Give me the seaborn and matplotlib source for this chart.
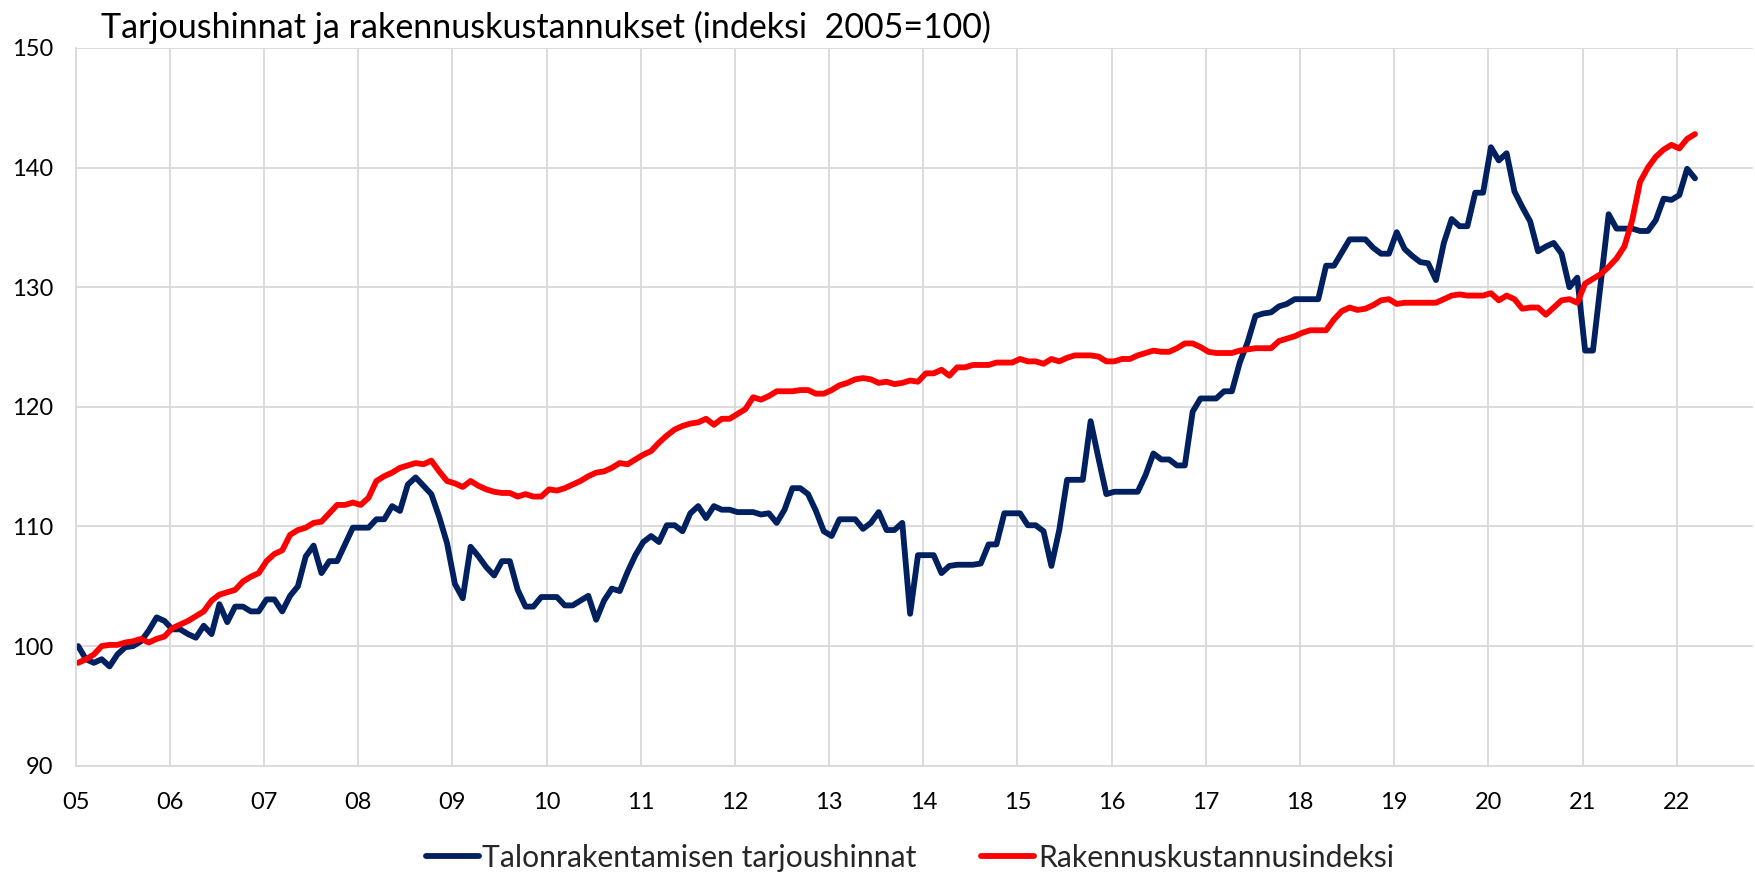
import numpy as np
import pandas as pd
import matplotlib
matplotlib.use("Agg")
import matplotlib.pyplot as plt
import seaborn as sns
from matplotlib.lines import Line2D

# Monthly data Jan 2005 .. Mar 2022 (index 2005=100)
tarjoushinnat = [
    100.0, 98.9, 98.6, 98.9, 98.3, 99.3, 99.9, 100.0, 100.4, 101.3, 102.4, 102.1,
    101.4, 101.4, 101.0, 100.7, 101.7, 101.0, 103.5, 102.0, 103.3, 103.3, 102.9, 102.9,
    103.9, 103.9, 102.9, 104.2, 105.0, 107.5, 108.4, 106.1, 107.1, 107.1, 108.5, 109.9,
    109.9, 109.9, 110.6, 110.6, 111.7, 111.3, 113.5, 114.1, 113.4, 112.7, 110.8, 108.6,
    105.2, 104.0, 108.3, 107.5, 106.6, 105.9, 107.1, 107.1, 104.7, 103.3, 103.3, 104.1,
    104.1, 104.1, 103.4, 103.4, 103.8, 104.2, 102.2, 103.8, 104.8, 104.6, 106.2, 107.6,
    108.7, 109.2, 108.7, 110.1, 110.1, 109.6, 111.1, 111.7, 110.7, 111.7, 111.4, 111.4,
    111.2, 111.2, 111.2, 111.0, 111.1, 110.3, 111.4, 113.2, 113.2, 112.7, 111.3, 109.6,
    109.2, 110.6, 110.6, 110.6, 109.8, 110.3, 111.2, 109.7, 109.7, 110.3, 102.7, 107.6,
    107.6, 107.6, 106.1, 106.7, 106.8, 106.8, 106.8, 106.9, 108.5, 108.5, 111.1, 111.1,
    111.1, 110.1, 110.1, 109.6, 106.7, 109.7, 113.9, 113.9, 113.9, 118.8, 115.7, 112.7,
    112.9, 112.9, 112.9, 112.9, 114.3, 116.1, 115.6, 115.6, 115.1, 115.1, 119.6, 120.7,
    120.7, 120.7, 121.3, 121.3, 123.7, 125.4, 127.6, 127.8, 127.9, 128.4, 128.6, 129.0,
    129.0, 129.0, 129.0, 131.8, 131.8, 132.9, 134.0, 134.0, 134.0, 133.3, 132.8, 132.8,
    134.6, 133.2, 132.6, 132.1, 132.0, 130.6, 133.7, 135.7, 135.1, 135.1, 137.9, 137.9,
    141.7, 140.6, 141.2, 138.0, 136.7, 135.5, 133.0, 133.4, 133.7, 132.8, 130.0, 130.8,
    124.7, 124.7, 130.4, 136.1, 134.9, 134.9, 134.9, 134.7, 134.7, 135.6, 137.4, 137.3,
    137.7, 139.9, 139.1,
]

rakennuskustannus = [
    98.6, 98.9, 99.3, 100.0, 100.1, 100.1, 100.3, 100.4, 100.6, 100.3, 100.6, 100.8,
    101.5, 101.8, 102.1, 102.5, 102.9, 103.8, 104.3, 104.5, 104.7, 105.4, 105.8, 106.1,
    107.1, 107.7, 108.0, 109.3, 109.7, 109.9, 110.3, 110.4, 111.1, 111.8, 111.8, 112.0,
    111.8, 112.4, 113.8, 114.2, 114.5, 114.9, 115.1, 115.3, 115.2, 115.5, 114.6, 113.8,
    113.6, 113.3, 113.8, 113.4, 113.1, 112.9, 112.8, 112.8, 112.5, 112.7, 112.5, 112.5,
    113.1, 113.0, 113.2, 113.5, 113.8, 114.2, 114.5, 114.6, 114.9, 115.3, 115.2, 115.6,
    116.0, 116.3, 117.0, 117.6, 118.1, 118.4, 118.6, 118.7, 119.0, 118.5, 119.0, 119.0,
    119.4, 119.8, 120.8, 120.6, 120.9, 121.3, 121.3, 121.3, 121.4, 121.4, 121.1, 121.1,
    121.4, 121.8, 122.0, 122.3, 122.4, 122.3, 122.0, 122.1, 121.9, 122.0, 122.2, 122.1,
    122.8, 122.8, 123.1, 122.6, 123.3, 123.3, 123.5, 123.5, 123.5, 123.7, 123.7, 123.7,
    124.0, 123.8, 123.8, 123.6, 124.0, 123.8, 124.1, 124.3, 124.3, 124.3, 124.2, 123.8,
    123.8, 124.0, 124.0, 124.3, 124.5, 124.7, 124.6, 124.6, 124.9, 125.3, 125.3, 125.0,
    124.6, 124.5, 124.5, 124.5, 124.7, 124.8, 124.9, 124.9, 124.9, 125.5, 125.7, 125.9,
    126.2, 126.4, 126.4, 126.4, 127.3, 128.0, 128.3, 128.1, 128.2, 128.5, 128.9, 129.0,
    128.6, 128.7, 128.7, 128.7, 128.7, 128.7, 129.0, 129.3, 129.4, 129.3, 129.3, 129.3,
    129.5, 128.9, 129.3, 129.0, 128.2, 128.3, 128.3, 127.7, 128.3, 128.9, 129.0, 128.7,
    130.3, 130.7, 131.1, 131.7, 132.4, 133.4, 135.6, 138.8, 140.0, 140.9, 141.5, 141.9,
    141.6, 142.4, 142.8,
]

years = list(range(2005, 2023))
year_labels = [f"{y % 100:02d}" for y in years]
series_names = ["Talonrakentamisen tarjoushinnat", "Rakennuskustannusindeksi"]
series_colors = ["#002060", "#FF0000"]

n = len(tarjoushinnat)
t = 2005 + (np.arange(n) + 0.32) / 12.0

df = pd.concat([
    pd.DataFrame({"aika": t, "indeksi": tarjoushinnat, "sarja": series_names[0]}),
    pd.DataFrame({"aika": t, "indeksi": rakennuskustannus, "sarja": series_names[1]}),
])

sns.set_theme(style="white")
plt.rcParams["font.family"] = ["Lato", "DejaVu Sans"]

fig = plt.figure(figsize=(17.55, 8.72), dpi=100)
ax = fig.add_axes([0.0431, 0.1219, 0.9558, 0.8231])

sns.lineplot(data=df, x="aika", y="indeksi", hue="sarja",
             palette=dict(zip(series_names, series_colors)),
             linewidth=4.2, ax=ax, legend=False, sort=False)

ax.set_xlim(2005, 2022.81)
ax.set_ylim(90, 150)
ax.set_xticks(years)
ax.set_xticklabels(year_labels)
ax.set_yticks(range(90, 151, 10))
ax.set_xlabel("")
ax.set_ylabel("")
ax.grid(True, color="#D9D9D9", linewidth=1.3)
ax.set_axisbelow(True)
for s in ["top", "right"]:
    ax.spines[s].set_visible(False)
for s in ["left", "bottom"]:
    ax.spines[s].set_color("#D9D9D9")
    ax.spines[s].set_linewidth(1.3)
ax.tick_params(axis="both", length=0, labelsize=17, colors="black")
ax.tick_params(axis="y", pad=16)
ax.tick_params(axis="x", pad=19)

fig.text(0.0575, 0.968, "Tarjoushinnat ja rakennuskustannukset (indeksi  2005=100)",
         ha="left", va="center", fontsize=24.5, color="black")

handles = [Line2D([0], [0], color=c, lw=4.2) for c in series_colors]
fig.legend(handles, series_names, loc="center", bbox_to_anchor=(0.5185, 0.016),
           ncol=2, frameon=False, fontsize=21.7, handlelength=1.75,
           handletextpad=0.12, columnspacing=2.15)

fig.savefig("out.png", dpi=100)
